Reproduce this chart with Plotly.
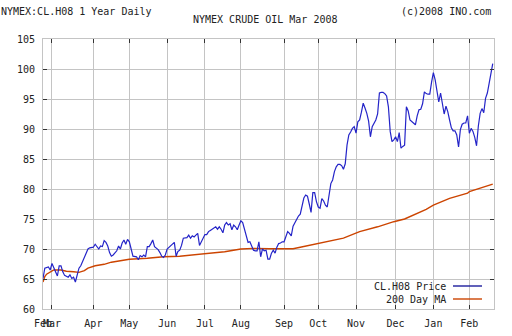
import plotly.graph_objects as go

# Trading-day index (0 = first session shown) and settlement prices, CL.H08
price_day = [
    0, 1, 3, 4, 5, 6, 7, 8, 9, 10, 11, 12, 14, 15, 16, 17, 18, 19, 20, 21,
    22, 23, 24, 25, 26, 28, 29, 30, 31, 32, 33, 34, 35, 36, 37, 38, 39, 41, 42, 43,
    44, 45, 46, 47, 48, 49, 50, 52, 53, 54, 55, 56, 57, 58, 59, 60, 61, 62, 63, 64,
    65, 66, 67, 68, 69, 70, 71, 72, 73, 74, 75, 76, 77, 78, 79, 80, 81, 82, 83, 84,
    85, 86, 87, 88, 89, 90, 91, 92, 93, 94, 95, 96, 97, 98, 99, 100, 101, 102, 103, 104,
    105, 106, 107, 108, 109, 110, 111, 112, 113, 114, 115, 116, 117, 118, 119, 120, 121, 122, 123, 124,
    125, 126, 127, 128, 129, 130, 131, 132, 133, 134, 135, 136, 137, 138, 139, 140, 141, 142, 143, 144,
    145, 146, 147, 148, 149, 150, 151, 152, 153, 154, 155, 156, 157, 158, 159, 160, 161, 162, 163, 164,
    165, 166, 167, 168, 169, 170, 171, 172, 173, 174, 175, 176, 177, 178, 179, 180, 181, 182, 183, 184,
    185, 186, 187, 188, 189, 190, 191, 192, 193, 194, 195, 196, 197, 198, 199, 200, 201, 202, 203, 204,
    205, 206, 207, 208, 209, 210, 211, 212, 213, 214, 215, 216, 217, 218, 219, 220, 221, 222, 223, 224,
    225, 226, 227, 228, 229, 230, 231, 232, 233, 234, 235, 236, 237, 238, 239, 240, 241, 242, 243, 244,
    245, 246, 247, 248, 249, 250,
]
price = [
    65.1, 66.8, 67.0, 66.5, 67.6, 66.8, 66.2, 65.5, 67.2, 67.2, 66.2, 65.6, 65.3, 65.7, 65.1, 65.3, 64.5, 65.5, 66.8, 67.2,
    67.9, 68.8, 69.6, 70.0, 70.2, 70.3, 70.8, 70.4, 70.0, 70.5, 70.4, 71.4, 71.1, 70.5, 69.4, 68.8, 69.0, 69.7, 70.5, 70.0,
    71.0, 71.5, 70.8, 71.6, 71.2, 70.0, 68.8, 68.7, 68.2, 68.9, 68.7, 69.0, 68.7, 70.4, 70.4, 70.9, 71.5, 70.4, 70.2, 69.9,
    69.4, 68.8, 68.6, 69.0, 70.0, 70.3, 70.5, 70.8, 71.1, 68.8, 69.6, 69.8, 70.6, 71.8, 71.8, 71.9, 72.3, 71.8, 72.2, 72.0,
    72.3, 72.6, 70.6, 71.3, 72.0, 72.4, 72.4, 72.9, 73.1, 73.3, 73.4, 73.7, 73.3, 73.7, 73.3, 72.7, 74.0, 74.4, 74.0, 74.2,
    73.2, 74.0, 73.7, 73.2, 74.0, 74.7, 74.4, 73.2, 72.0, 71.1, 71.2, 70.4, 69.8, 69.7, 69.7, 71.2, 68.7, 70.0, 69.7, 69.8,
    68.3, 68.3, 69.3, 69.8, 69.3, 70.3, 70.9, 71.0, 71.2, 71.2, 72.0, 72.9, 72.6, 72.2, 73.8, 74.4, 75.1, 75.5, 75.8, 77.0,
    78.5, 79.0, 78.8, 77.5, 76.1, 79.4, 79.4, 77.9, 77.0, 76.8, 78.4, 78.0, 77.3, 77.0, 79.2, 80.9, 81.5, 82.9, 83.7, 84.1,
    84.1, 83.9, 83.3, 84.2, 87.3, 89.0, 89.5, 90.1, 90.4, 89.3, 91.2, 91.5, 92.8, 94.3, 93.5, 92.6, 91.3, 88.7, 90.4, 91.0,
    91.5, 92.5, 96.0, 96.1, 96.1, 95.9, 95.5, 93.7, 89.6, 87.9, 88.2, 88.7, 87.9, 89.4, 86.8, 87.1, 87.3, 93.7, 93.0, 91.5,
    91.2, 90.9, 90.7, 92.2, 93.2, 93.3, 94.2, 96.2, 95.9, 95.8, 95.8, 97.8, 99.4, 98.2, 96.2, 94.5, 96.0, 94.2, 92.5, 93.8,
    92.9, 91.5, 90.2, 89.7, 89.7, 89.0, 87.0, 89.9, 90.8, 91.0, 91.0, 92.2, 89.3, 90.1, 89.6, 88.6, 87.2, 90.5, 92.6, 93.4,
    92.7, 95.1, 96.0, 97.6, 99.2, 100.9,
]

# 200-day moving average
ma_day = [0, 1, 2, 4, 6, 10, 13, 17, 20, 23, 25, 29, 34, 38, 43, 48, 58, 67, 76, 86,
          95, 101, 110, 117, 126, 139, 143, 151, 158, 167, 176, 186, 195, 201, 213, 217, 226, 236, 237, 245, 250]
ma_value = [64.5, 65.4, 65.8, 66.2, 66.5, 66.5, 66.3, 66.2, 66.1, 66.4, 66.8, 67.2, 67.45, 67.8, 68.0, 68.3, 68.45, 68.7, 68.8, 69.1,
            69.3, 69.55, 70.0, 70.1, 70.05, 70.05, 70.3, 70.8, 71.2, 71.8, 72.9, 73.7, 74.55, 75.0, 76.6, 77.3, 78.45, 79.3, 79.55, 80.3, 80.8]

# Month boundaries on the trading-day axis
month_day = [0, 5, 28, 48, 69, 90, 110, 134, 153, 174, 196, 217, 237]
month_label = ["Feb", "Mar", "Apr", "May", "Jun", "Jul", "Aug", "Sep", "Oct", "Nov", "Dec", "Jan", "Feb"]

price_ticks = [60, 65, 70, 75, 80, 85, 90, 95, 100, 105]

series_names = ["CL.H08 Price", "200 Day MA"]
series_colors = ["#2424c8", "#cc4400"]
legend_colors = ["#1e1e9c", "#cc4400"]

W, H = 512, 336
L, R, T, B = 43, 18, 39, 27
PW, PH = W - L - R, H - T - B


def xp(px):
    return (px - L) / PW


def yp(py):
    return (H - B - py) / PH


FONT = "DejaVu Sans Mono"
TXT = "#222222"
GRID = "#c4c4c4"

fig = go.Figure()
fig.add_trace(go.Scatter(x=ma_day, y=ma_value, mode="lines", name=series_names[1],
                         line=dict(color=series_colors[1], width=1.4), showlegend=False))
fig.add_trace(go.Scatter(x=price_day, y=price, mode="lines", name=series_names[0],
                         line=dict(color=series_colors[0], width=1.2), showlegend=False))

axis_common = dict(
    showgrid=True, gridcolor=GRID, gridwidth=1,
    showline=True, linecolor=GRID, linewidth=1, mirror="ticks",
    ticks="inside", ticklen=4, tickwidth=1, tickcolor="#333333",
    tickfont=dict(family=FONT, size=10, color=TXT),
    zeroline=False, fixedrange=True, automargin=False,
)

fig.update_xaxes(range=[0, 250.7], tickmode="array", tickvals=month_day, ticktext=month_label,
                 tickangle=0, ticklabelstandoff=5, **axis_common)
fig.update_yaxes(range=[60, 105], tickmode="array", tickvals=price_ticks,
                 ticklabelstandoff=5, **axis_common)

annotations = [
    dict(text="NYMEX:CL.H08 1 Year Daily", x=xp(0), y=yp(11), xanchor="left", yanchor="middle"),
    dict(text="(c)2008 INO.com", x=xp(492), y=yp(11), xanchor="right", yanchor="middle"),
    dict(text="NYMEX CRUDE OIL Mar 2008", x=xp(265), y=yp(20), xanchor="center", yanchor="middle"),
    dict(text=series_names[0], x=xp(447), y=yp(286), xanchor="right", yanchor="middle"),
    dict(text=series_names[1], x=xp(447), y=yp(299), xanchor="right", yanchor="middle"),
]
for a in annotations:
    a.update(xref="paper", yref="paper", showarrow=False, borderpad=0,
             font=dict(family=FONT, size=10, color=TXT))

shapes = [
    dict(type="rect", x0=xp(350), x1=xp(490), y0=yp(305), y1=yp(280.5),
         fillcolor="white", line=dict(width=0), layer="between"),
    dict(type="line", x0=xp(453), x1=xp(482), y0=yp(286), y1=yp(286),
         line=dict(color=legend_colors[0], width=1.4)),
    dict(type="line", x0=xp(453), x1=xp(482), y0=yp(299), y1=yp(299),
         line=dict(color=legend_colors[1], width=1.4)),
]
for s in shapes:
    s.update(xref="paper", yref="paper")

fig.update_layout(
    width=W, height=H, autosize=False,
    margin=dict(l=L, r=R, t=T, b=B, pad=0),
    paper_bgcolor="white", plot_bgcolor="white",
    font=dict(family=FONT, size=10, color=TXT),
    showlegend=False,
    annotations=annotations, shapes=shapes,
)

fig.write_html("out.html", config={"displayModeBar": False})
